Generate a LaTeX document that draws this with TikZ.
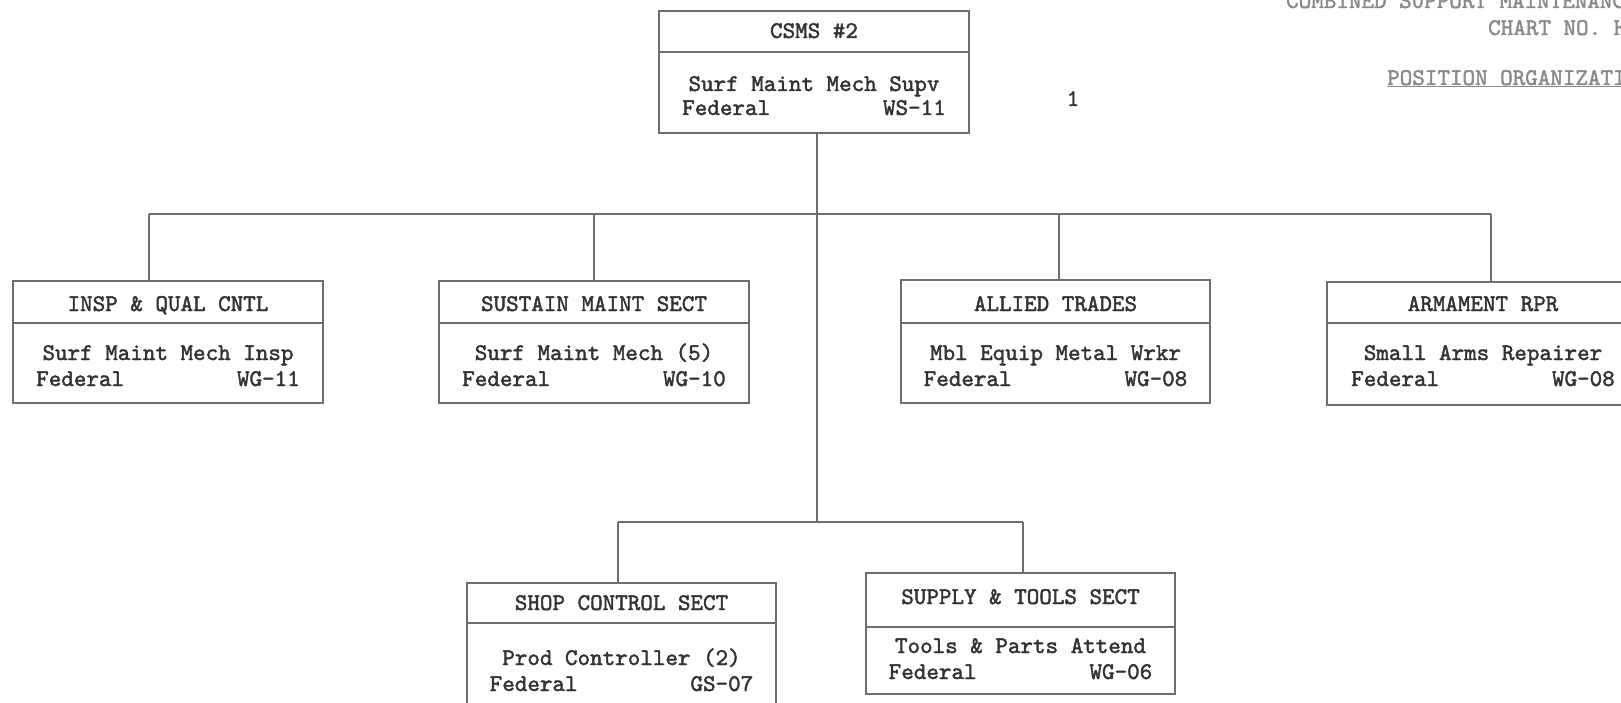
\documentclass[tikz,border=0pt]{standalone}
\usepackage{fontspec}
\newfontfamily\twfam{lmmono10-regular.otf}[FakeBold=1.8]
\definecolor{lnc}{HTML}{6E6E6E}
\definecolor{txc}{HTML}{333333}
\definecolor{fdc}{HTML}{8A8A8A}
\newcommand\twfont{\twfam\fontsize{23.9}{26}\selectfont}
\begin{document}
\begin{tikzpicture}[x=1pt,y=-1pt,
  bx/.style={draw=lnc, line width=1.9pt, anchor=north west, inner sep=0pt, outer sep=0pt},
  tx/.style={anchor=base, inner sep=0pt, font=\twfont, text=txc},
  fd/.style={anchor=base west, inner sep=0pt, font=\twfont, text=fdc},
  conn/.style={draw=lnc, line width=1.9pt}]
\useasboundingbox (0,0) rectangle (1621,703);
\fill[white] (0,0) rectangle (1621,703);

% top box
\node[bx, minimum width=310pt, minimum height=41pt] (topH) at (659,11) {};
\node[bx, minimum width=310pt, minimum height=81pt] (topB) at (659,52) {};
\node[tx] (topT) at (814,38) {CSMS \#2};
\node[tx] (topL1) at (814,91) {Surf Maint Mech Supv};
\node[tx] (topL2) at (814,115) {Federal~~~~~~~~~WS-11};
\node[tx] (one) at (1073,106) {1};

% INSP
\node[bx, minimum width=310pt, minimum height=42pt] (inspH) at (13,281) {};
\node[bx, minimum width=310pt, minimum height=80pt] (inspB) at (13,323) {};
\node[tx] (inspT) at (168,311) {INSP \& QUAL CNTL};
\node[tx] (inspL1) at (168,360) {Surf Maint Mech Insp};
\node[tx] (inspL2) at (168,386) {Federal~~~~~~~~~WG-11};

% SUSTAIN
\node[bx, minimum width=310pt, minimum height=42pt] (sustH) at (439,281) {};
\node[bx, minimum width=310pt, minimum height=80pt] (sustB) at (439,323) {};
\node[tx] (sustT) at (594,311) {SUSTAIN MAINT SECT};
\node[tx] (sustL1) at (594,360) {Surf Maint Mech (5)};
\node[tx] (sustL2) at (594,386) {Federal~~~~~~~~~WG-10};

% ALLIED
\node[bx, minimum width=309pt, minimum height=43pt] (allH) at (901,280) {};
\node[bx, minimum width=309pt, minimum height=80pt] (allB) at (901,323) {};
\node[tx] (allT) at (1055.5,311) {ALLIED TRADES};
\node[tx] (allL1) at (1055.5,360) {Mbl Equip Metal Wrkr};
\node[tx] (allL2) at (1055.5,386) {Federal~~~~~~~~~WG-08};

% ARMAMENT
\node[bx, minimum width=312pt, minimum height=41pt] (armH) at (1327,282) {};
\node[bx, minimum width=312pt, minimum height=82pt] (armB) at (1327,323) {};
\node[tx] (armT) at (1483,311) {ARMAMENT RPR};
\node[tx] (armL1) at (1483,360) {Small Arms Repairer};
\node[tx] (armL2) at (1483,386) {Federal~~~~~~~~~WG-08};

% SHOP
\node[bx, minimum width=309pt, minimum height=40pt] (shopH) at (467,583) {};
\node[bx, minimum width=309pt, minimum height=100pt] (shopB) at (467,623) {};
\node[tx] (shopT) at (621.5,610) {SHOP CONTROL SECT};
\node[tx] (shopL1) at (621.5,665) {Prod Controller (2)};
\node[tx] (shopL2) at (621.5,691) {Federal~~~~~~~~~GS-07};

% SUPPLY
\node[bx, minimum width=309pt, minimum height=54pt] (supH) at (866,573) {};
\node[bx, minimum width=309pt, minimum height=67pt] (supB) at (866,627) {};
\node[tx] (supT) at (1020.5,604) {SUPPLY \& TOOLS SECT};
\node[tx] (supL1) at (1020.5,653) {Tools \& Parts Attend};
\node[tx] (supL2) at (1020.5,679) {Federal~~~~~~~~~WG-06};

% title fragments
\node[fd] (hd1) at (1286,8) {COMBINED SUPPORT MAINTENANC};
\node[fd] (hd2) at (1488,35) {CHART NO. H};
\node[fd] (hd3) at (1387,85) {\underline{POSITION ORGANIZATI}};

% connectors
\coordinate (j1) at (817,214);
\coordinate (j2) at (817,522);
\coordinate (bL) at (149,214);
\coordinate (bR) at (1491,214);
\coordinate (dS) at (594,214);
\coordinate (dA) at (1059,214);
\coordinate (cL) at (618,522);
\coordinate (cR) at (1023,522);
\draw[conn] (topB.south -| j1) -- (j1) -- (j2);
\draw[conn] (bL) -- (bR);
\draw[conn] (bL) -- (bL |- inspH.north);
\draw[conn] (dS) -- (dS |- sustH.north);
\draw[conn] (dA) -- (dA |- allH.north);
\draw[conn] (bR) -- (bR |- armH.north);
\draw[conn] (cL) -- (cR);
\draw[conn] (cL) -- (cL |- shopH.north);
\draw[conn] (cR) -- (cR |- supH.north);
\end{tikzpicture}
\end{document}
